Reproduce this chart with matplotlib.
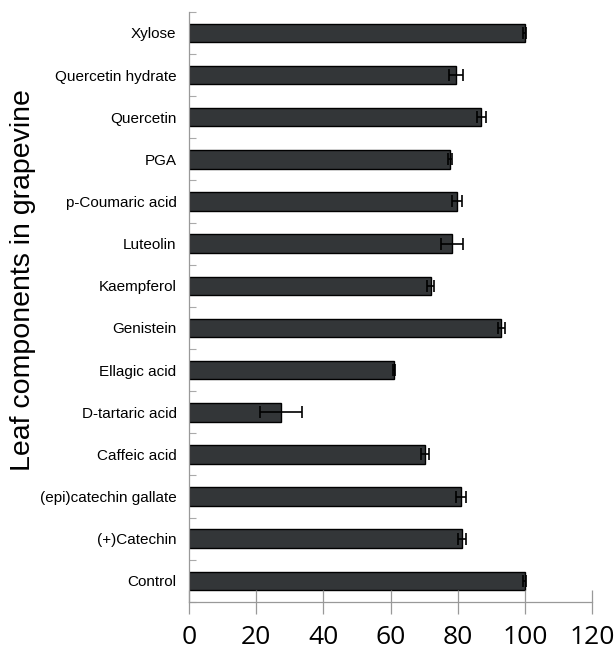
import numpy as np
import matplotlib
matplotlib.use("Agg")
import matplotlib.pyplot as plt

# bottom to top, as drawn
components = ["Control", "(+)Catechin", "(epi)catechin gallate", "Caffeic acid",
              "D-tartaric acid", "Ellagic acid", "Genistein", "Kaempferol",
              "Luteolin", "p-Coumaric acid", "PGA", "Quercetin",
              "Quercetin hydrate", "Xylose"]
values = [100.0, 81.3, 81.0, 70.2, 27.4, 61.0, 93.0, 72.0,
          78.3, 79.7, 77.7, 87.1, 79.5, 100.0]
errors = [0.4, 1.3, 1.6, 1.2, 6.2, 0.3, 1.0, 1.0,
          3.3, 1.5, 0.5, 1.3, 2.0, 0.4]
xticks = [0, 20, 40, 60, 80, 100, 120]

fig = plt.figure(figsize=(6.14, 6.55), dpi=100)
ax = fig.add_axes([0.308, 0.081, 0.656, 0.901])

ypos = np.arange(len(components))
ax.barh(ypos, values, height=0.44, color="#333638", edgecolor="black",
        linewidth=1.0, xerr=errors,
        error_kw=dict(ecolor="black", elinewidth=1.2, capsize=4, capthick=1.2))

ax.set_xlim(0, 120)
ax.set_ylim(-0.5, len(components) - 0.5)
ax.set_xticks(xticks)
ax.set_xticklabels([str(t) for t in xticks], fontsize=19, family="Open Sans")
ax.tick_params(axis="x", direction="inout", length=17, width=0.9,
               color="#999999", pad=8)

ax.set_yticks(ypos)
ax.set_yticklabels(components, fontsize=11, family="Liberation Sans")
ax.tick_params(axis="y", length=0, pad=9)
ax.set_yticks(np.arange(-0.5, len(components), 1.0), minor=True)
ax.tick_params(axis="y", which="minor", direction="in", length=5,
               width=0.8, color="#aaaaaa")

for s in ["top", "right"]:
    ax.spines[s].set_visible(False)
for s in ["left", "bottom"]:
    ax.spines[s].set_color("#999999")
    ax.spines[s].set_linewidth(0.9)

ax.set_ylabel("Leaf components in grapevine", fontsize=20.5,
              family="Liberation Sans")
ax.yaxis.set_label_coords(-0.38, 0.545)

fig.savefig("out.png", dpi=100)
